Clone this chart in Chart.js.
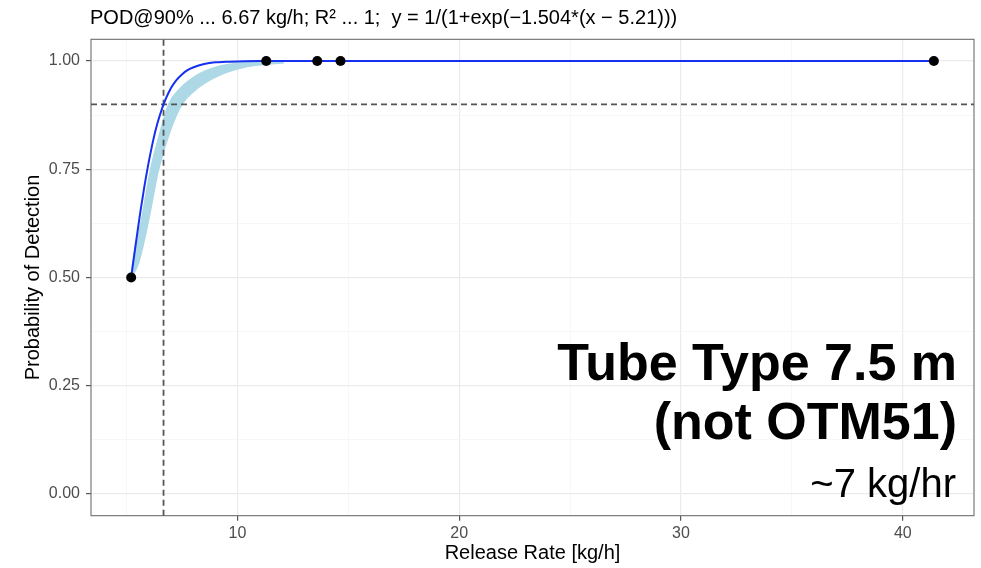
<!DOCTYPE html>
<html>
<head>
<meta charset="utf-8">
<script src="https://cdn.jsdelivr.net/npm/chart.js@4/dist/chart.umd.min.js"></script>
<style>
html,body{margin:0;padding:0;background:#fff;}
#wrap{width:981px;height:568px;}
</style>
</head>
<body>
<div id="wrap"><canvas id="c" width="981" height="568"></canvas></div>
<script>
// ---- data ----
const titleText = "POD@90% ... 6.67 kg/h; R\u00B2 ... 1;  y = 1/(1+exp(\u22121.504*(x \u2212 5.21)))";
const xAxisTitle = "Release Rate [kg/h]";
const yAxisTitle = "Probability of Detection";
const annotLines = ["Tube Type 7.5 m", "(not OTM51)", "~7 kg/hr"];

// observed points
const obsX = [5.21, 11.3, 13.6, 14.65, 41.4];
const obsY = [0.5, 1, 1, 1, 1];

// fitted logistic curve
const fitX = [5.21, 5.3, 5.4, 5.5, 5.6, 5.7, 5.8, 5.9, 6.0, 6.15, 6.3, 6.5, 6.75, 7.0, 7.25, 7.5, 7.75, 8.0, 8.5, 9.0, 9.5, 10, 11, 12, 41.4];
const fitY = [0.5, 0.534, 0.571, 0.607, 0.643, 0.676, 0.708, 0.738, 0.766, 0.804, 0.838, 0.874, 0.910, 0.937, 0.956, 0.969, 0.979, 0.985, 0.993, 0.997, 0.998, 0.999, 1.0, 1.0, 1.0];

// light-blue band: upper and lower edges
const bandUpperX = [5.21, 5.28, 5.65, 6.08, 6.54, 6.9, 7.43, 8.2, 9.1, 10.5, 12.1];
const bandUpperY = [0.5, 0.533, 0.626, 0.748, 0.84, 0.9, 0.937, 0.968, 0.987, 0.997, 1.0];
const bandLowerX = [5.21, 5.54, 5.97, 6.44, 6.98, 7.5, 8.2, 9.23, 10.45, 12.1];
const bandLowerY = [0.5, 0.533, 0.626, 0.748, 0.84, 0.9, 0.937, 0.968, 0.987, 0.996];

// reference lines
const podX = 6.67;
const podY = 0.9;

// axes
const xMin = 3.40, xMax = 43.21;
const yMin = -0.05, yMax = 1.05;
const xMajorTicks = [10, 20, 30, 40];
const xMinorTicks = [5, 15, 25, 35];
const yMajorTicks = [0, 0.25, 0.5, 0.75, 1];
const yMinorTicks = [0.125, 0.375, 0.625, 0.875];

// ---- build ----
const zip = (xs, ys) => xs.map((x, i) => ({x: x, y: ys[i]}));
const FONT = "'Liberation Sans', Arial, Helvetica, sans-serif";
const BAND = '#ADD8E6';

const isMajor = (v, arr) => arr.some(m => Math.abs(m - v) < 1e-9);

function setTicks(major, minor) {
  return function(scale) {
    const all = major.concat(minor).sort((a, b) => a - b);
    scale.ticks = all.map(v => ({value: v}));
  };
}

const extrasPlugin = {
  id: 'extras',
  beforeDatasetsDraw(chart) {
    const {ctx, chartArea} = chart;
    ctx.save();
    ctx.strokeStyle = '#7a7a7a';
    ctx.lineWidth = 1.2;
    ctx.strokeRect(chartArea.left, chartArea.top, chartArea.right - chartArea.left, chartArea.bottom - chartArea.top);
    ctx.restore();
  },
  afterDraw(chart) {
    const {ctx, chartArea} = chart;
    ctx.save();
    ctx.fillStyle = '#000';
    ctx.font = '20px ' + FONT;
    ctx.textAlign = 'left';
    ctx.textBaseline = 'middle';
    ctx.fillText(titleText, chartArea.left - 1, 18);
    ctx.textAlign = 'right';
    ctx.textBaseline = 'alphabetic';
    ctx.font = 'bold 52px ' + FONT;
    ctx.fillText(annotLines[0], 957, 380);
    ctx.fillText(annotLines[1], 957, 439);
    ctx.font = '40px ' + FONT;
    ctx.fillText(annotLines[2], 956, 497);
    ctx.restore();
  }
};

const ctx = document.getElementById('c').getContext('2d');
new Chart(ctx, {
  type: 'scatter',
  data: {
    datasets: [
      {
        label: 'observed',
        data: zip(obsX, obsY),
        pointRadius: 5,
        pointHoverRadius: 5,
        pointBackgroundColor: '#000',
        pointBorderColor: '#000',
        pointBorderWidth: 0,
        showLine: false,
        order: 0
      },
      {
        label: 'fit',
        data: zip(fitX, fitY),
        showLine: true,
        borderColor: '#1530f0',
        borderWidth: 2,
        pointRadius: 0,
        cubicInterpolationMode: 'monotone',
        order: 1
      },
      {
        label: 'vline',
        data: [{x: podX, y: yMin}, {x: podX, y: yMax}],
        showLine: true,
        borderColor: '#555555',
        borderWidth: 1.8,
        borderDash: [6, 4],
        pointRadius: 0,
        order: 2
      },
      {
        label: 'hline',
        data: [{x: xMin, y: podY}, {x: xMax, y: podY}],
        showLine: true,
        borderColor: '#555555',
        borderWidth: 1.8,
        borderDash: [6, 4],
        pointRadius: 0,
        order: 2
      },
      {
        label: 'bandUpper',
        data: zip(bandUpperX, bandUpperY),
        showLine: true,
        borderColor: BAND,
        backgroundColor: BAND,
        borderWidth: 1.5,
        pointRadius: 0,
        cubicInterpolationMode: 'monotone',
        fill: '+1',
        order: 3
      },
      {
        label: 'bandLower',
        data: zip(bandLowerX, bandLowerY),
        showLine: true,
        borderColor: BAND,
        backgroundColor: BAND,
        borderWidth: 1.5,
        pointRadius: 0,
        cubicInterpolationMode: 'monotone',
        fill: false,
        order: 3
      }
    ]
  },
  options: {
    responsive: false,
    animation: false,
    devicePixelRatio: 1,
    layout: {padding: {left: 0, right: 7, top: 39.35, bottom: 0}},
    plugins: {
      legend: {display: false},
      tooltip: {enabled: false},
      title: {display: false},
      filler: {propagate: false}
    },
    scales: {
      x: {
        type: 'linear',
        min: xMin,
        max: xMax,
        afterBuildTicks: setTicks(xMajorTicks, xMinorTicks),
        afterFit(scale) { scale.height = 52.35; },
        border: {display: false},
        grid: {
          color: c => isMajor(c.tick.value, xMajorTicks) ? '#EBEBEB' : '#F4F4F4',
          lineWidth: c => isMajor(c.tick.value, xMajorTicks) ? 1.2 : 0.7,
          tickColor: c => isMajor(c.tick.value, xMajorTicks) ? '#555555' : 'rgba(0,0,0,0)',
          tickLength: 5,
          drawTicks: true
        },
        ticks: {
          autoSkip: false,
          maxRotation: 0,
          padding: 3,
          color: '#4D4D4D',
          font: {family: FONT, size: 16},
          callback: v => isMajor(v, xMajorTicks) ? String(v) : ''
        },
        title: {
          display: true,
          text: xAxisTitle,
          color: '#000',
          font: {family: FONT, size: 20},
          padding: {top: 0, bottom: 3}
        }
      },
      y: {
        type: 'linear',
        min: yMin,
        max: yMax,
        afterBuildTicks: setTicks(yMajorTicks, yMinorTicks),
        afterFit(scale) { scale.width = 91; },
        border: {display: false},
        grid: {
          color: c => isMajor(c.tick.value, yMajorTicks) ? '#EBEBEB' : '#F4F4F4',
          lineWidth: c => isMajor(c.tick.value, yMajorTicks) ? 1.2 : 0.7,
          tickColor: c => isMajor(c.tick.value, yMajorTicks) ? '#555555' : 'rgba(0,0,0,0)',
          tickLength: 5,
          drawTicks: true
        },
        ticks: {
          autoSkip: false,
          padding: 6,
          color: '#4D4D4D',
          font: {family: FONT, size: 16},
          callback: v => isMajor(v, yMajorTicks) ? Number(v).toFixed(2) : ''
        },
        title: {
          display: true,
          text: yAxisTitle,
          color: '#000',
          font: {family: FONT, size: 20},
          padding: {top: 21, bottom: 0}
        }
      }
    }
  },
  plugins: [extrasPlugin]
});
</script>
</body>
</html>
